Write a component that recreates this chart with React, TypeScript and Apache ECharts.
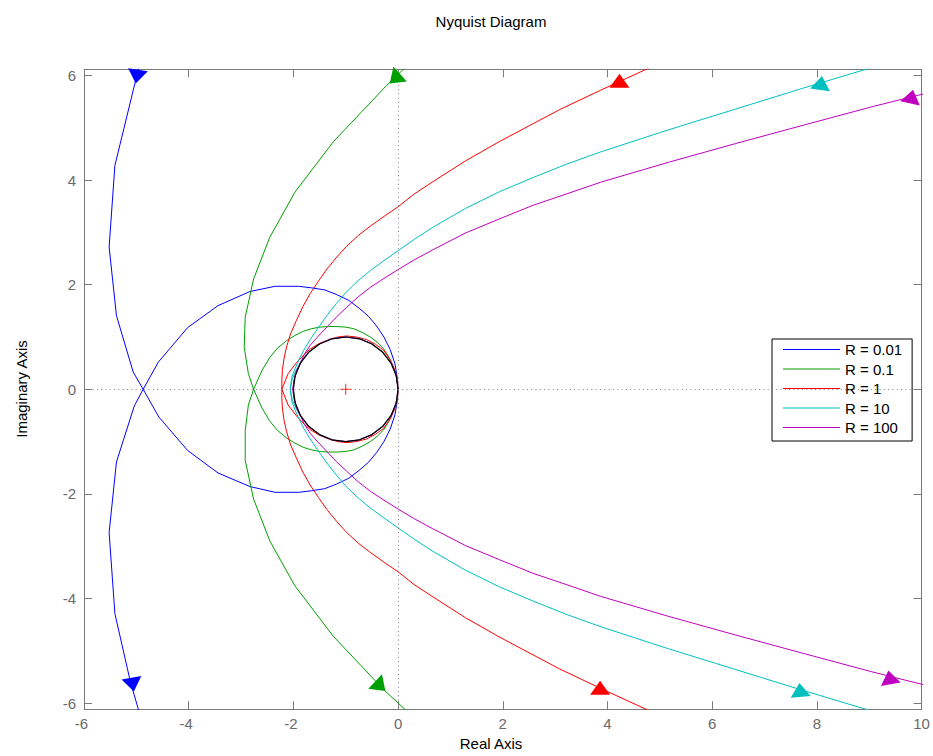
import React, { useEffect, useRef } from "react";
import * as echarts from "echarts";

const FONT = '"Liberation Sans", Arial, Helvetica, sans-serif';

const seriesNames = ["R = 0.01", "R = 0.1", "R = 1", "R = 10", "R = 100"];
const seriesColors = ["#0000ff", "#00a000", "#ff0000", "#00bfbf", "#bf00bf"];

// R = 0.01 (blue)
const blueOuterUpper = [[-4.75, 7.0], [-5.03, 5.84], [-5.41, 4.28], [-5.52, 2.72], [-5.38, 1.41], [-5.06, 0.33], [-4.87, 0]];
const blueInnerUpper = [[-4.58, 0.52], [-4.02, 1.18], [-3.44, 1.6], [-2.83, 1.87], [-2.35, 1.97], [-1.9, 1.97], [-1.65, 1.94], [-1.4, 1.9], [-1.17, 1.81], [-0.94, 1.7], [-0.73, 1.54], [-0.56, 1.39], [-0.41, 1.21], [-0.27, 1.0], [-0.15, 0.76], [-0.06, 0.49], [-0.02, 0.25], [0, 0]];
const blueInnerLower = [[-0.02, -0.25], [-0.06, -0.49], [-0.15, -0.76], [-0.27, -1.0], [-0.41, -1.21], [-0.56, -1.39], [-0.73, -1.54], [-0.94, -1.7], [-1.17, -1.81], [-1.4, -1.9], [-1.65, -1.94], [-1.9, -1.97], [-2.35, -1.97], [-2.83, -1.86], [-3.44, -1.6], [-4.02, -1.17], [-4.57, -0.53], [-4.87, 0]];
const blueOuterLower = [[-5.04, -0.32], [-5.38, -1.39], [-5.52, -2.74], [-5.41, -4.29], [-5.11, -5.61], [-4.97, -6.09], [-4.72, -7.0]];

// R = 0.1 (green)
const greenOuterUpper = [[0.32, 6.33], [-0.22, 5.81], [-1.24, 4.73], [-1.97, 3.77], [-2.45, 2.91], [-2.76, 2.11], [-2.92, 1.38], [-2.94, 0.81], [-2.86, 0.3], [-2.76, 0]];
const greenInnerUpper = [[-2.6, 0.36], [-2.45, 0.61], [-2.3, 0.79], [-2.13, 0.93], [-1.97, 1.03], [-1.81, 1.11], [-1.65, 1.16], [-1.49, 1.19], [-1.33, 1.2], [-1.17, 1.2], [-1.01, 1.19], [-0.85, 1.16], [-0.69, 1.09], [-0.53, 1.0], [-0.4, 0.9], [-0.28, 0.78], [-0.19, 0.64], [-0.12, 0.49], [-0.06, 0.33], [-0.02, 0.17], [0, 0]];
const greenInnerLower = [[-0.02, -0.17], [-0.06, -0.33], [-0.12, -0.49], [-0.19, -0.64], [-0.28, -0.78], [-0.4, -0.9], [-0.53, -1.0], [-0.69, -1.09], [-0.85, -1.16], [-1.01, -1.19], [-1.17, -1.2], [-1.33, -1.2], [-1.49, -1.19], [-1.65, -1.16], [-1.81, -1.11], [-1.97, -1.03], [-2.13, -0.93], [-2.3, -0.79], [-2.45, -0.61], [-2.6, -0.36], [-2.76, 0]];
const greenOuterLower = [[-2.86, -0.3], [-2.92, -0.79], [-2.92, -1.36], [-2.76, -2.1], [-2.45, -2.9], [-1.97, -3.76], [-1.24, -4.72], [-0.28, -5.74], [0.13, -6.12], [0.32, -6.33]];

// R = 1 (red)
const redOuterUpper = [[5.5, 6.45], [4.74, 6.12], [3.87, 5.72], [3.09, 5.35], [2.58, 5.08], [1.94, 4.74], [1.29, 4.37], [0.65, 3.96], [0.3, 3.73], [0, 3.49], [-0.25, 3.32], [-0.53, 3.12], [-0.75, 2.95], [-0.98, 2.74], [-1.17, 2.53], [-1.36, 2.3], [-1.52, 2.07], [-1.68, 1.83], [-1.82, 1.58], [-1.94, 1.32], [-2.05, 1.07], [-2.13, 0.81], [-2.18, 0.58], [-2.21, 0.36], [-2.22, 0.18], [-2.22, 0]];
const redInnerUpper = [[-2.1, 0.3], [-1.94, 0.51], [-1.8, 0.66], [-1.68, 0.77], [-1.5, 0.88], [-1.3, 0.96], [-1.15, 1.0], [-0.98, 1.02], [-0.8, 1.0], [-0.6, 0.95], [-0.43, 0.86], [-0.28, 0.75], [-0.15, 0.57], [-0.06, 0.37], [-0.01, 0.18], [0, 0]];
const redInnerLower = [[-0.01, -0.18], [-0.06, -0.37], [-0.15, -0.57], [-0.28, -0.75], [-0.43, -0.86], [-0.6, -0.95], [-0.8, -1.0], [-0.98, -1.02], [-1.15, -1.0], [-1.3, -0.96], [-1.5, -0.88], [-1.68, -0.77], [-1.8, -0.66], [-1.94, -0.51], [-2.1, -0.3], [-2.22, 0]];
const redOuterLower = [[-2.22, -0.18], [-2.21, -0.36], [-2.18, -0.58], [-2.13, -0.81], [-2.05, -1.07], [-1.94, -1.32], [-1.82, -1.58], [-1.68, -1.83], [-1.52, -2.07], [-1.36, -2.3], [-1.17, -2.53], [-0.98, -2.74], [-0.75, -2.95], [-0.53, -3.12], [-0.25, -3.32], [0, -3.49], [0.3, -3.73], [0.65, -3.96], [1.29, -4.37], [1.94, -4.74], [2.58, -5.08], [3.09, -5.35], [3.87, -5.72], [4.74, -6.12], [5.5, -6.45]];

// R = 10 (cyan)
const cyanOuterUpper = [[10.2, 6.5], [8.94, 6.12], [7.74, 5.76], [6.45, 5.36], [5.16, 4.96], [3.87, 4.54], [3.23, 4.31], [2.58, 4.05], [1.94, 3.78], [1.29, 3.46], [0.65, 3.09], [0.3, 2.86], [0, 2.65], [-0.27, 2.46], [-0.53, 2.27], [-0.76, 2.08], [-0.98, 1.87], [-1.18, 1.64], [-1.36, 1.41], [-1.53, 1.17], [-1.68, 0.95], [-1.8, 0.75], [-1.9, 0.55], [-1.97, 0.39], [-2.03, 0.23], [-2.06, 0]];
const cyanInnerUpper = [[-2.02, 0.2], [-1.95, 0.36], [-1.86, 0.52], [-1.71, 0.71], [-1.5, 0.87], [-1.26, 0.97], [-1.0, 1.0], [-0.74, 0.97], [-0.5, 0.87], [-0.29, 0.71], [-0.13, 0.5], [-0.03, 0.26], [0, 0]];
const cyanInnerLower = [[-0.03, -0.26], [-0.13, -0.5], [-0.29, -0.71], [-0.5, -0.87], [-0.74, -0.97], [-1.0, -1.0], [-1.26, -0.97], [-1.5, -0.87], [-1.71, -0.71], [-1.86, -0.52], [-1.95, -0.36], [-2.02, -0.2], [-2.06, 0]];
const cyanOuterLower = [[-2.03, -0.23], [-1.97, -0.39], [-1.9, -0.55], [-1.8, -0.75], [-1.68, -0.95], [-1.53, -1.17], [-1.36, -1.41], [-1.18, -1.64], [-0.98, -1.87], [-0.76, -2.08], [-0.53, -2.27], [-0.27, -2.46], [0, -2.65], [0.3, -2.86], [0.65, -3.09], [1.29, -3.46], [1.94, -3.78], [2.58, -4.05], [3.23, -4.31], [3.87, -4.54], [5.16, -4.96], [6.45, -5.36], [7.74, -5.76], [8.94, -6.12], [10.2, -6.5]];

// R = 100 (magenta)
const magentaOuterUpper = [[10.6, 5.8], [10.0, 5.64], [9.04, 5.4], [7.74, 5.05], [6.45, 4.7], [5.16, 4.34], [3.87, 3.96], [3.23, 3.74], [2.58, 3.52], [1.94, 3.26], [1.29, 2.99], [0.65, 2.66], [0.3, 2.47], [0, 2.29], [-0.27, 2.12], [-0.53, 1.95], [-0.76, 1.77], [-0.98, 1.57], [-1.18, 1.38], [-1.36, 1.19], [-1.53, 1.01], [-1.68, 0.84], [-1.79, 0.67], [-1.87, 0.49], [-1.94, 0.33], [-1.99, 0.17], [-2.01, 0]];
const magentaInnerUpper = [[-1.98, 0.2], [-1.94, 0.36], [-1.86, 0.52], [-1.71, 0.71], [-1.5, 0.87], [-1.26, 0.97], [-1.0, 1.0], [-0.74, 0.97], [-0.5, 0.87], [-0.29, 0.71], [-0.13, 0.5], [-0.03, 0.26], [0, 0]];
const magentaInnerLower = [[-0.03, -0.26], [-0.13, -0.5], [-0.29, -0.71], [-0.5, -0.87], [-0.74, -0.97], [-1.0, -1.0], [-1.26, -0.97], [-1.5, -0.87], [-1.71, -0.71], [-1.86, -0.52], [-1.94, -0.36], [-1.98, -0.2], [-2.01, 0]];
const magentaOuterLower = [[-1.99, -0.17], [-1.94, -0.33], [-1.87, -0.49], [-1.79, -0.67], [-1.68, -0.84], [-1.53, -1.01], [-1.36, -1.19], [-1.18, -1.38], [-0.98, -1.57], [-0.76, -1.77], [-0.53, -1.95], [-0.27, -2.12], [0, -2.29], [0.3, -2.47], [0.65, -2.66], [1.29, -2.99], [1.94, -3.26], [2.58, -3.52], [3.23, -3.74], [3.87, -3.96], [5.16, -4.34], [6.45, -4.7], [7.74, -5.05], [9.04, -5.4], [10.0, -5.64], [10.6, -5.8]];

// black reference circle
const unitCircle = [[0, 0], [-0.034, 0.259], [-0.134, 0.5], [-0.293, 0.707], [-0.5, 0.866], [-0.741, 0.966], [-1, 1], [-1.259, 0.966], [-1.5, 0.866], [-1.707, 0.707], [-1.866, 0.5], [-1.966, 0.259], [-2, 0], [-1.966, -0.259], [-1.866, -0.5], [-1.707, -0.707], [-1.5, -0.866], [-1.259, -0.966], [-1, -1], [-0.741, -0.966], [-0.5, -0.866], [-0.293, -0.707], [-0.134, -0.5], [-0.034, -0.259], [0, 0]];

// arrow positions (data coords)
const blueArrows = [[-4.99, 5.98], [-5.07, -5.65]];
const greenArrows = [[-0.06, 5.94], [-0.34, -5.68]];
const redArrows = [[4.23, 5.9], [3.86, -5.71]];
const cyanArrows = [[8.08, 5.86], [7.68, -5.75]];
const magentaArrows = [[9.81, 5.6], [9.39, -5.51]];

const criticalPoint = [[-1, 0]];

const xTicks = { min: -6, max: 10, step: 2 };
const yRange = { min: -6.12, max: 6.12 };

// arrow rotations (style)
const arrowRotations = [[171, 190], [132, 227], [0, 0], [-8, 5], [-12, 10]];

export default function App() {
  const ref = useRef<HTMLDivElement>(null);

  useEffect(() => {
    if (!ref.current) return;
    const chart = echarts.init(ref.current, null, { renderer: "svg" });

    const curves = [
      [...blueOuterUpper, ...blueInnerUpper, ...blueInnerLower, ...blueOuterLower],
      [...greenOuterUpper, ...greenInnerUpper, ...greenInnerLower, ...greenOuterLower],
      [...redOuterUpper, ...redInnerUpper, ...redInnerLower, ...redOuterLower],
      [...cyanOuterUpper, ...cyanInnerUpper, ...cyanInnerLower, ...cyanOuterLower],
      [...magentaOuterUpper, ...magentaInnerUpper, ...magentaInnerLower, ...magentaOuterLower],
    ];
    const arrows = [blueArrows, greenArrows, redArrows, cyanArrows, magentaArrows];

    const axisGray = "#7a7a7a";
    const labelGray = "#6a6a6a";

    const lineSeries = curves.map((pts, i) => ({
      type: "line",
      name: seriesNames[i],
      data: pts,
      symbol: "none",
      showSymbol: false,
      smooth: false,
      silent: true,
      z: 3,
      lineStyle: { color: seriesColors[i], width: 1 },
      itemStyle: { color: seriesColors[i], borderWidth: 0 },
    }));

    const arrowSeries = arrows.map((pts, i) => ({
      type: "scatter",
      name: "arrow" + i,
      data: pts.map((p, k) => ({ value: p, symbolRotate: arrowRotations[i][k] })),
      symbol: "triangle",
      symbolSize: [20, 14],
      silent: true,
      z: 5,
      itemStyle: { color: seriesColors[i], opacity: 1 },
    }));

    const option: any = {
      animation: false,
      backgroundColor: "#ffffff",
      textStyle: { fontFamily: FONT },
      grid: { left: 84, top: 69.3, width: 837.5, height: 640, containLabel: false },
      legend: {
        data: seriesNames.map((n, i) => ({
          name: n,
          icon: "rect",
          itemStyle: { color: seriesColors[i], borderWidth: 0, opacity: 1 },
        })),
        orient: "vertical",
        left: 772,
        top: 339,
        padding: [3, 10, 6, 11],
        itemWidth: 57,
        itemHeight: 1,
        itemGap: 4.5,
        borderColor: "#000",
        borderWidth: 1,
        borderRadius: 0,
        backgroundColor: "#fff",
        selectedMode: false,
        textStyle: { fontSize: 15, color: "#000", fontFamily: FONT },
      },
      xAxis: [
        {
          type: "value",
          position: "bottom",
          min: xTicks.min,
          max: xTicks.max,
          interval: xTicks.step,
          axisLine: { show: true, onZero: false, lineStyle: { color: axisGray, width: 1 } },
          axisTick: { show: true, inside: true, length: 8, lineStyle: { color: axisGray } },
          splitLine: { show: false },
          axisLabel: {
            fontSize: 15,
            color: labelGray,
            fontFamily: FONT,
            margin: 7,
            formatter: (v: number) => (v < 0 ? `${v}{h|-}` : `${v}`),
            rich: { h: { color: "rgba(0,0,0,0)", fontSize: 15, fontFamily: FONT } },
          },
        },
        {
          type: "value",
          position: "top",
          min: xTicks.min,
          max: xTicks.max,
          interval: xTicks.step,
          axisLine: { show: true, onZero: false, lineStyle: { color: axisGray, width: 1 } },
          axisTick: { show: true, inside: true, length: 8, lineStyle: { color: axisGray } },
          splitLine: { show: false },
          axisLabel: { show: false },
        },
      ],
      yAxis: [
        {
          type: "value",
          position: "left",
          min: yRange.min,
          max: yRange.max,
          splitNumber: 6,
          axisLine: { show: true, onZero: false, lineStyle: { color: axisGray, width: 1 } },
          axisTick: { show: true, inside: true, length: 8, lineStyle: { color: axisGray } },
          splitLine: { show: false },
          axisLabel: {
            fontSize: 15,
            color: labelGray,
            fontFamily: FONT,
            margin: 8,
            formatter: (v: number) => {
              const r = Math.round(v);
              return Math.abs(v - r) < 1e-6 && r % 2 === 0 ? String(r) : "";
            },
          },
        },
        {
          type: "value",
          position: "right",
          min: yRange.min,
          max: yRange.max,
          splitNumber: 6,
          axisLine: { show: true, onZero: false, lineStyle: { color: axisGray, width: 1 } },
          axisTick: { show: true, inside: true, length: 8, lineStyle: { color: axisGray } },
          splitLine: { show: false },
          axisLabel: { show: false },
        },
      ],
      graphic: [
        {
          type: "text",
          x: 491,
          y: 21,
          style: { text: "Nyquist Diagram", fill: "#000", font: `15px ${FONT}`, align: "center", verticalAlign: "middle" },
        },
        {
          type: "text",
          x: 491,
          y: 743,
          style: { text: "Real Axis", fill: "#000", font: `15px ${FONT}`, align: "center", verticalAlign: "middle" },
        },
        {
          type: "text",
          x: 21,
          y: 389,
          rotation: Math.PI / 2,
          style: { text: "Imaginary Axis", fill: "#000", font: `15px ${FONT}`, align: "center", verticalAlign: "middle" },
        },
      ],
      series: [
        {
          type: "line",
          name: "zero-lines",
          data: [[0, 0]],
          symbol: "none",
          showSymbol: false,
          silent: true,
          z: 1,
          lineStyle: { width: 0 },
          markLine: {
            silent: true,
            symbol: ["none", "none"],
            label: { show: false },
            lineStyle: { color: "#808080", width: 1, type: [1, 3.3] },
            data: [{ xAxis: 0 }, { yAxis: 0 }],
          },
        },
        ...lineSeries,
        {
          type: "line",
          name: "unit",
          data: unitCircle,
          symbol: "none",
          showSymbol: false,
          silent: true,
          z: 4,
          lineStyle: { color: "#000", width: 1.2 },
        },
        {
          type: "scatter",
          name: "critical",
          data: criticalPoint,
          symbol: "path://M4.5,0H5.5V4.5H10V5.5H5.5V10H4.5V5.5H0V4.5H4.5Z",
          symbolSize: 11,
          silent: true,
          z: 5,
          itemStyle: { color: "#ff0000" },
        },
        ...arrowSeries,
      ],
    };

    chart.setOption(option);
    return () => chart.dispose();
  }, []);

  return (
    <div
      ref={ref}
      style={{ position: "fixed", left: 0, top: 0, width: 933, height: 756, background: "#fff" }}
    />
  );
}
